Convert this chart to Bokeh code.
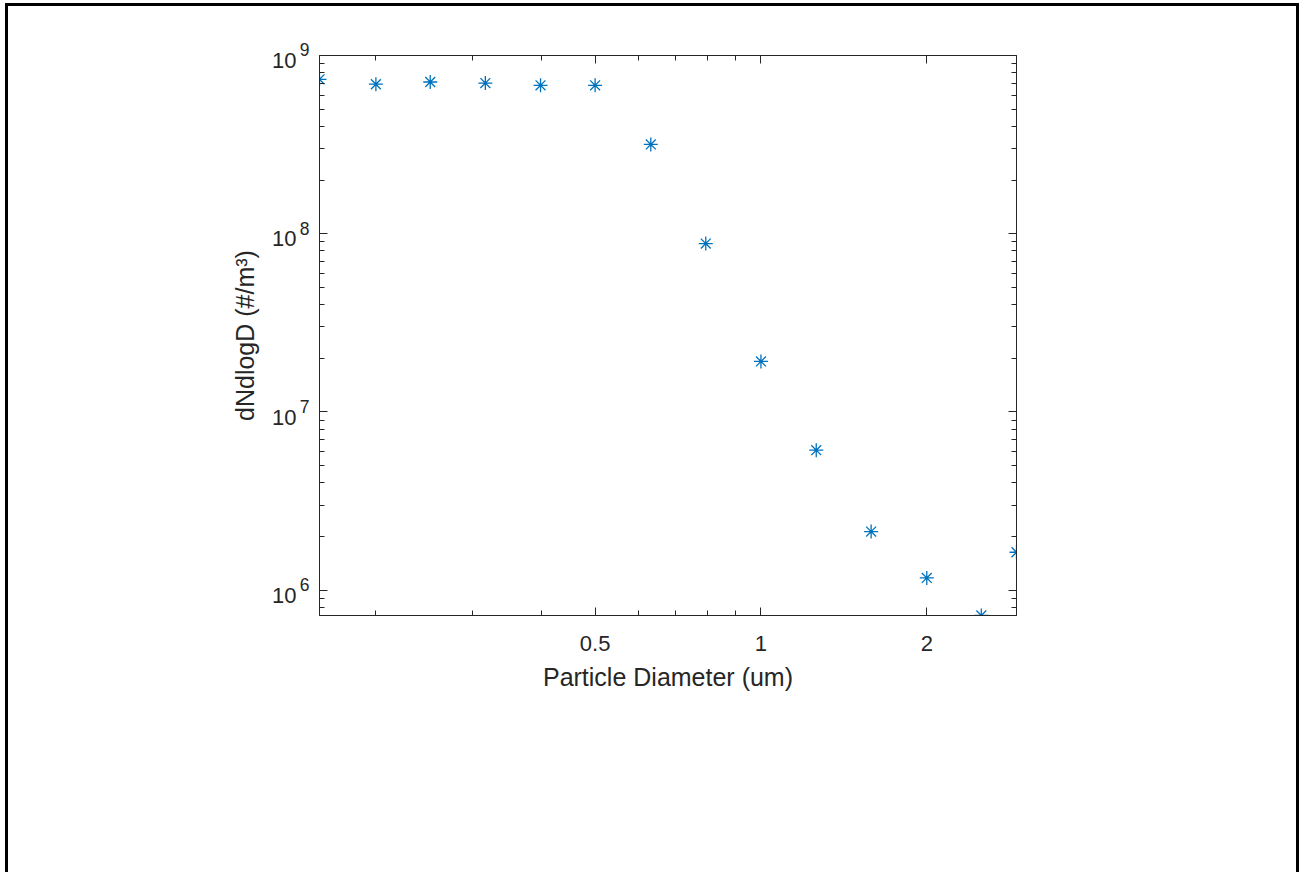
from bokeh.plotting import figure
from bokeh.models import (FixedTicker, LogAxis, Range1d,
                          CustomJSTickFormatter, GlobalInlineStyleSheet)
from bokeh.embed import file_html
from bokeh.resources import INLINE

# ---- data ----
diameter_um = [0.158, 0.2, 0.251, 0.316, 0.398, 0.5, 0.631, 0.794, 1.0,
               1.26, 1.585, 2.0, 2.512, 2.91]
dndlogd = [7.35e8, 6.9e8, 7.1e8, 7.0e8, 6.8e8, 6.8e8, 3.17e8, 8.8e7, 1.92e7,
           6.1e6, 2.13e6, 1.17e6, 7.2e5, 1.63e6]

x_major = [0.5, 1, 2]
x_minor = [0.2, 0.3, 0.4, 0.6, 0.7, 0.8, 0.9]
y_major = [1e6, 1e7, 1e8, 1e9]
y_minor = [m * 10 ** e for e in range(5, 9) for m in range(2, 10)]

FONT = "Liberation Sans"
AX = "#262626"
BLUE = "#0072BD"

W, H = 1300, 868
FL, FR, FT, FB = 319, 1016, 55, 615   # frame edges on the canvas
p = figure(width=W, height=H, x_axis_type="log", y_axis_type="log",
           x_range=Range1d(min(diameter_um), max(diameter_um)),
           y_range=Range1d(min(dndlogd), 1e9),
           output_backend="svg", toolbar_location=None,
           min_border_left=FL, min_border_right=W - FR,
           min_border_top=FT, min_border_bottom=H - FB)
p.grid.visible = False
p.outline_line_color = AX
p.background_fill_color = "white"
p.border_fill_color = "white"
p.stylesheets = [GlobalInlineStyleSheet(css="""
body::after { content: ""; position: fixed; left: 5px; top: 3px; width: 1294px;
  height: 1000px; border: 3px solid #000; border-bottom: none;
  box-sizing: border-box; pointer-events: none; }
""")]

p.scatter(diameter_um, dndlogd, marker="asterisk", size=14,
          line_color=BLUE, line_width=1.3)

blank = CustomJSTickFormatter(code="return '';")
xfmt = CustomJSTickFormatter(code="return String(tick);")
# exponent on the upper line, base "10" on the lower line -> superscript look
exp_fmt = CustomJSTickFormatter(code="return String(Math.round(Math.log10(tick))) + '\\n ';")
base_fmt = CustomJSTickFormatter(code="return ' \\n10';")


def style(ax):
    ax.major_tick_in = 8
    ax.major_tick_out = 0
    ax.minor_tick_in = 5
    ax.minor_tick_out = 0
    ax.axis_line_color = AX
    ax.major_tick_line_color = AX
    ax.minor_tick_line_color = AX
    ax.major_label_text_color = AX
    ax.major_label_text_font = FONT
    ax.major_label_text_font_size = "22px"
    ax.axis_label_text_font = FONT
    ax.axis_label_text_font_size = "25px"
    ax.axis_label_text_font_style = "normal"
    ax.axis_label_text_color = AX


xa = p.xaxis[0]
xa.ticker = FixedTicker(ticks=x_major, minor_ticks=x_minor)
xa.formatter = xfmt
style(xa)
xa.major_label_standoff = 20
xa.axis_label = "Particle Diameter (um)"
xa.axis_label_standoff = 9

# inner left axis: ticks + raised exponents of the "10^n" labels
ya = p.yaxis[0]
ya.ticker = FixedTicker(ticks=y_major, minor_ticks=y_minor)
ya.formatter = exp_fmt
style(ya)
ya.major_label_text_font_size = "17.5px"
ya.major_label_text_line_height = 0.51
ya.major_label_standoff = 10

# outer left axis: the "10" bases and the axis title
ya2 = LogAxis(ticker=FixedTicker(ticks=y_major), formatter=base_fmt)
style(ya2)
ya2.axis_line_color = None
ya2.major_tick_line_color = None
ya2.minor_tick_line_color = None
ya2.major_tick_in = 0
ya2.minor_tick_in = 0
ya2.major_label_text_font_size = "22px"
ya2.major_label_text_line_height = 0.41
ya2.major_label_standoff = 0
ya2.axis_label = "dNdlogD (#/m\u00b3)"
ya2.axis_label_standoff = 10
p.add_layout(ya2, "left")

top = LogAxis(ticker=FixedTicker(ticks=x_major, minor_ticks=x_minor), formatter=blank)
style(top)
top.major_label_text_font_size = "0px"
p.add_layout(top, "above")
right = LogAxis(ticker=FixedTicker(ticks=y_major, minor_ticks=y_minor), formatter=blank)
style(right)
right.major_label_text_font_size = "0px"
p.add_layout(right, "right")

open("out.html", "w").write(file_html(p, INLINE))
